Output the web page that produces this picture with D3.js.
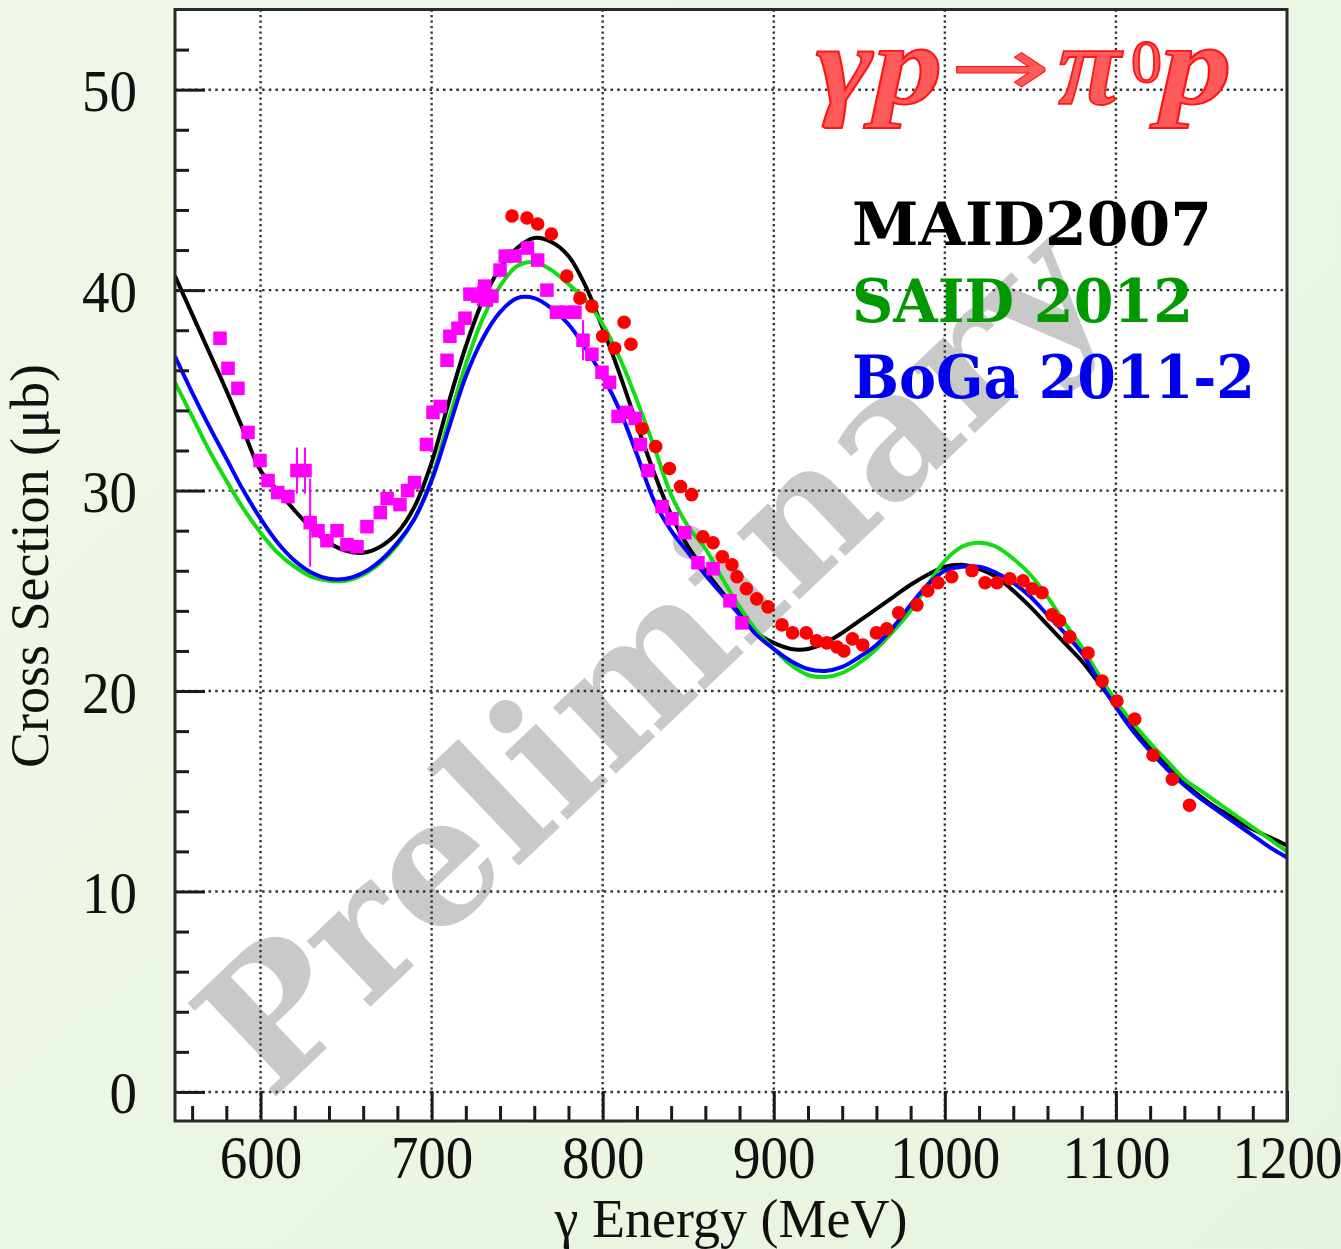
<!DOCTYPE html>
<html>
<head>
<meta charset="utf-8">
<script src="https://cdn.jsdelivr.net/npm/d3@7"></script>
<style>
  html, body { margin: 0; padding: 0; background: #eef7e7; }
  svg { display: block; }
</style>
</head>
<body>
<svg id="chart" width="1341" height="1249"></svg>
<script>
// ---------------- DATA ----------------
const curveEnergy = [550,560,570,580,590,600,610,620,630,640,650,660,670,680,690,700,710,720,730,740,750,760,770,780,790,800,810,820,830,840,850,860,870,880,890,900,910,920,930,940,950,960,970,980,990,1000,1010,1020,1030,1040,1050,1060,1070,1080,1090,1100,1110,1120,1130,1140,1150,1160,1170,1180,1190,1200];
const maid2007 = [40.7,38.8,36.9,35.0,33.0,31.0,30.0,29.0,28.1,27.4,27.0,26.9,27.2,27.9,29.2,31.4,34.4,37.2,39.5,41.1,42.1,42.6,42.4,41.7,40.2,38.1,35.8,33.3,30.9,28.8,27.2,26.0,24.9,23.9,22.9,22.4,22.1,22.1,22.4,22.9,23.5,24.1,24.7,25.3,25.8,26.2,26.3,26.1,25.7,25.0,24.2,23.3,22.4,21.5,20.4,19.3,18.2,17.2,16.3,15.4,14.7,14.1,13.6,13.1,12.7,12.3];
const said2012 = [35.4,33.7,32.0,30.5,29.1,27.9,26.9,26.2,25.7,25.5,25.5,25.8,26.4,27.3,28.6,30.6,33.5,36.3,38.6,40.2,41.2,41.4,41.0,40.3,39.5,38.3,36.6,34.5,32.2,29.8,28.2,27.1,25.6,24.2,23.0,22.1,21.3,20.8,20.7,20.9,21.4,22.1,23.0,24.0,25.3,26.5,27.2,27.4,27.2,26.6,25.8,24.7,23.4,22.2,20.8,19.5,18.4,17.4,16.5,15.6,15.0,14.4,13.8,13.2,12.6,12.0];
const boga2011 = [36.7,34.9,33.2,31.6,30.0,28.6,27.4,26.5,25.9,25.6,25.6,25.9,26.5,27.4,28.6,30.5,33.1,35.7,37.6,38.9,39.6,39.6,39.1,38.3,37.1,35.7,34.0,31.8,29.5,28.0,26.9,25.8,24.8,23.8,22.8,22.1,21.5,21.1,21.0,21.2,21.7,22.3,23.2,24.3,25.3,26.0,26.2,26.2,25.9,25.4,24.7,23.8,22.9,21.9,20.5,19.2,18.0,17.0,16.1,15.3,14.6,14.0,13.4,12.8,12.2,11.7];

// magenta squares
const squareEnergy = [576.3,581,586.8,592.7,599.7,604.4,610,616,621.3,626,629,633.6,638.8,644.7,650.5,656.4,662.2,670,674,681.5,686,690,697,700.8,705,709,710.7,715.4,719.5,722.4,727,731,732,735.3,740,743,748.7,756,762,767.4,773,779,783.8,788.5,793.7,799.6,804,809,814,819,822,826.5,834.7,840.5,848,855.7,864.5,874.4,881.4];
const squareValue  = [37.6,36.1,35.1,32.9,31.5,30.5,29.9,29.7,31.0,31.0,28.4,28.0,27.5,28.0,27.3,27.2,28.2,28.9,29.6,29.3,30.0,30.4,32.3,33.9,34.2,36.5,37.7,38.1,38.6,39.8,39.7,40.2,39.5,39.7,41.0,41.7,41.7,42.1,41.5,40.0,38.9,38.9,38.9,37.5,36.8,35.9,35.4,33.7,33.9,33.6,32.3,31.0,29.2,28.6,27.9,26.4,26.1,24.5,23.4];
const squareError  = [0,0,0,0,0,0,0,0,1.15,1.15,2.2,0,0,0,0,0,0,0,0,0,0,0,0,0,0,0,0,0,0,0,0.5,0,0,0,0,0,0,0,0,0,0,0,0,1.0,0,0,0,0,0,0,0,0,0,0,0,0,0,0,0];

// red circles
const circleEnergy = [747,755.7,762,770,779,786.7,793.7,800,807,812.5,816.5,823,831,839,845.5,852,858.6,864.5,870,875.6,878.5,884,890,896.6,904.8,911,919,925,931,937,941,946,952,960,966,973,983.7,990,996,1004,1015.9,1023.5,1030.5,1038,1045.7,1051,1056.8,1062.6,1067,1073,1083.7,1091.9,1100.6,1111,1121.7,1133,1143];
const circleValue  = [43.7,43.6,43.3,42.8,40.7,39.6,39.2,37.7,37.1,38.4,37.3,33.1,32.2,31.1,30.2,29.8,27.7,27.4,26.7,26.3,25.7,25.1,24.6,24.2,23.3,22.9,22.9,22.5,22.4,22.2,22.0,22.6,22.3,22.9,23.1,23.9,24.3,25.0,25.4,25.7,26.0,25.4,25.4,25.6,25.5,25.1,24.9,23.8,23.5,22.7,21.9,20.5,19.5,18.6,16.8,15.6,14.3];

const xMajorTicks = [600,700,800,900,1000,1100,1200];
const xMinorTicks = [560,580,620,640,660,680,720,740,760,780,820,840,860,880,920,940,960,980,1020,1040,1060,1080,1120,1140,1160,1180];
const yMajorTicks = [0,10,20,30,40,50];
const yMinorTicks = [2,4,6,8,12,14,16,18,22,24,26,28,32,34,36,38,42,44,46,48,52];
const legendLabels = ["MAID2007","SAID 2012","BoGa 2011-2"];
const xTitle = "γ Energy (MeV)";
const yTitle = "Cross Section (μb)";
const watermark = "Preliminary";

// ---------------- CHART ----------------
const svg = d3.select("#chart");
const L = 175, R = 1287, T = 9.5, B = 1121;
const x = d3.scaleLinear().domain([550, 1200]).range([L, R]);
const y = d3.scaleLinear().domain([-1.45, 54]).range([B, T]);

// background
const defs = svg.append("defs");
const g1 = defs.append("linearGradient").attr("id","bg").attr("x1","0").attr("y1","0").attr("x2","1").attr("y2","1");
g1.append("stop").attr("offset","0").attr("stop-color","#f1f8ec");
g1.append("stop").attr("offset","0.5").attr("stop-color","#ecf6e4");
g1.append("stop").attr("offset","1").attr("stop-color","#e8f4df");
svg.append("rect").attr("width",1341).attr("height",1249).attr("fill","url(#bg)");
defs.append("clipPath").attr("id","plotclip").append("rect")
  .attr("x",L).attr("y",T).attr("width",R-L).attr("height",B-T);

// plot area
svg.append("rect").attr("x",L).attr("y",T).attr("width",R-L).attr("height",B-T).attr("fill","#ffffff");

// watermark
svg.append("g").attr("clip-path","url(#plotclip)")
  .append("text")
  .attr("transform","translate(270,1102) rotate(-43.5)")
  .attr("font-family","DejaVu Serif")
  .attr("font-weight","bold")
  .attr("font-size",176)
  .attr("fill","#c9c9c9")
  .text(watermark);

// grid
const grid = svg.append("g");
grid.selectAll("line.gx").data(xMajorTicks.filter(d => d < 1200)).join("line")
  .attr("x1", d => x(d)).attr("x2", d => x(d)).attr("y1", T).attr("y2", B)
  .attr("stroke","#333").attr("stroke-width",2.4).attr("stroke-dasharray","2.2,3.3");
grid.selectAll("line.gy").data(yMajorTicks).join("line")
  .attr("x1", L).attr("x2", R).attr("y1", d => y(d)).attr("y2", d => y(d))
  .attr("stroke","#333").attr("stroke-width",2.4).attr("stroke-dasharray","2.5,4.2");

// curves
const line = d3.line().x(d => x(d[0])).y(d => y(d[1])).curve(d3.curveCatmullRom.alpha(0.5));
const curves = [
  {vals: maid2007, color: "#000000"},
  {vals: said2012, color: "#11dd11"},
  {vals: boga2011, color: "#0000ff"}
];
const cg = svg.append("g").attr("clip-path","url(#plotclip)");
curves.forEach(c => {
  cg.append("path")
    .attr("d", line(curveEnergy.map((e,i) => [e, c.vals[i]])))
    .attr("fill","none").attr("stroke", c.color).attr("stroke-width",4);
});

// magenta squares with error bars
const sq = squareEnergy.map((e,i) => ({e, v: squareValue[i], err: squareError[i]}));
cg.selectAll("line.err").data(sq.filter(d => d.err > 0)).join("line")
  .attr("x1", d => x(d.e)).attr("x2", d => x(d.e))
  .attr("y1", d => y(d.v - d.err)).attr("y2", d => y(d.v + d.err))
  .attr("stroke","#ff00ff").attr("stroke-width",2);
const S = 13.5;
cg.selectAll("rect.sq").data(sq).join("rect")
  .attr("x", d => x(d.e) - S/2).attr("y", d => y(d.v) - S/2)
  .attr("width", S).attr("height", S).attr("fill","#ff00ff");

// red circles
cg.selectAll("circle.rc").data(circleEnergy.map((e,i) => ({e, v: circleValue[i]}))).join("circle")
  .attr("cx", d => x(d.e)).attr("cy", d => y(d.v)).attr("r", 6.8).attr("fill","#ff0000");

// axes
const tickColor = "#1a1a1a";
const xAxisMajor = d3.axisBottom(x).tickValues(xMajorTicks).tickSize(-30).tickSizeOuter(0).tickFormat(d3.format("d"));
const xAxisMinor = d3.axisBottom(x).tickValues(xMinorTicks).tickSize(-15).tickSizeOuter(0).tickFormat("");
const yAxisMajor = d3.axisLeft(y).tickValues(yMajorTicks).tickSize(-30).tickSizeOuter(0).tickFormat(d3.format("d"));
const yAxisMinor = d3.axisLeft(y).tickValues(yMinorTicks).tickSize(-14).tickSizeOuter(0).tickFormat("");

function styleAxis(g) {
  g.select(".domain").remove();
  g.selectAll(".tick line").attr("stroke", tickColor).attr("stroke-width", 3);
}
svg.append("g").attr("transform",`translate(0,${B})`).call(xAxisMinor).call(styleAxis);
const gxM = svg.append("g").attr("transform",`translate(0,${B})`).call(xAxisMajor).call(styleAxis);
gxM.selectAll(".tick text")
  .attr("font-family","Liberation Serif").attr("font-size",55).attr("fill","#111")
  .attr("text-anchor","middle")
  .attr("dy",null).attr("y", 57/1.1)
  .attr("transform","scale(1,1.1)");
svg.append("g").attr("transform",`translate(${L},0)`).call(yAxisMinor).call(styleAxis);
const gyM = svg.append("g").attr("transform",`translate(${L},0)`).call(yAxisMajor).call(styleAxis);
gyM.selectAll(".tick text")
  .attr("font-family","Liberation Serif").attr("font-size",55).attr("fill","#111")
  .attr("text-anchor","end")
  .attr("dy",null).attr("x",-38).attr("y", 21/1.08)
  .attr("transform","scale(1,1.08)");

// frame
svg.append("rect").attr("x",L).attr("y",T).attr("width",R-L).attr("height",B-T)
  .attr("fill","none").attr("stroke","#2a2a2a").attr("stroke-width",3);

// axis titles
svg.append("text")
  .attr("transform",`translate(${(L+R)/2},1237)`)
  .attr("text-anchor","middle")
  .attr("font-family","Liberation Serif").attr("font-size",54).attr("fill","#111")
  .text(xTitle);
svg.append("text")
  .attr("transform","translate(48,566) rotate(-90)")
  .attr("text-anchor","middle")
  .attr("font-family","Liberation Serif").attr("font-size",54).attr("fill","#111")
  .text(yTitle);

// reaction title  γp → π0 p
const titleFill = "#ff5a5a", titleStroke = "#ff1414";
const tg = svg.append("g").attr("fill", titleFill).attr("stroke", titleStroke).attr("stroke-width", 1.8);
const ital = sel => sel.attr("font-family","Liberation Serif").attr("font-style","italic").attr("font-weight","bold");
tg.append("text").attr("transform","translate(816,104) scale(1.2,1)").attr("font-size", 115).call(ital).text("γp");
tg.append("text").attr("transform","translate(950,95) scale(1.5,1)")
  .attr("font-family","DejaVu Sans").attr("font-size", 80).attr("stroke-width",1).text("→");
tg.append("text").attr("transform","translate(1058,104)").attr("font-size", 115).call(ital).text("π");
tg.append("text").attr("x", 1131).attr("y", 82).attr("font-size", 62)
  .attr("font-family","Liberation Serif").text("0");
tg.append("text").attr("transform","translate(1160,104) scale(1.25,1)").attr("font-size", 115).call(ital).text("p");

// legend
const legendColors = ["#000000","#009a00","#0000ee"];
const legendY = [245, 322, 398];
const legendWidth = [360, 341, 403];
svg.selectAll("text.leg").data(legendLabels).join("text")
  .attr("x", 852).attr("y", (d,i) => legendY[i])
  .attr("font-family","DejaVu Serif").attr("font-weight","bold").attr("font-size",60)
  .attr("textLength", (d,i) => legendWidth[i]).attr("lengthAdjust","spacingAndGlyphs")
  .attr("fill", (d,i) => legendColors[i])
  .text(d => d);
</script>
</body>
</html>
